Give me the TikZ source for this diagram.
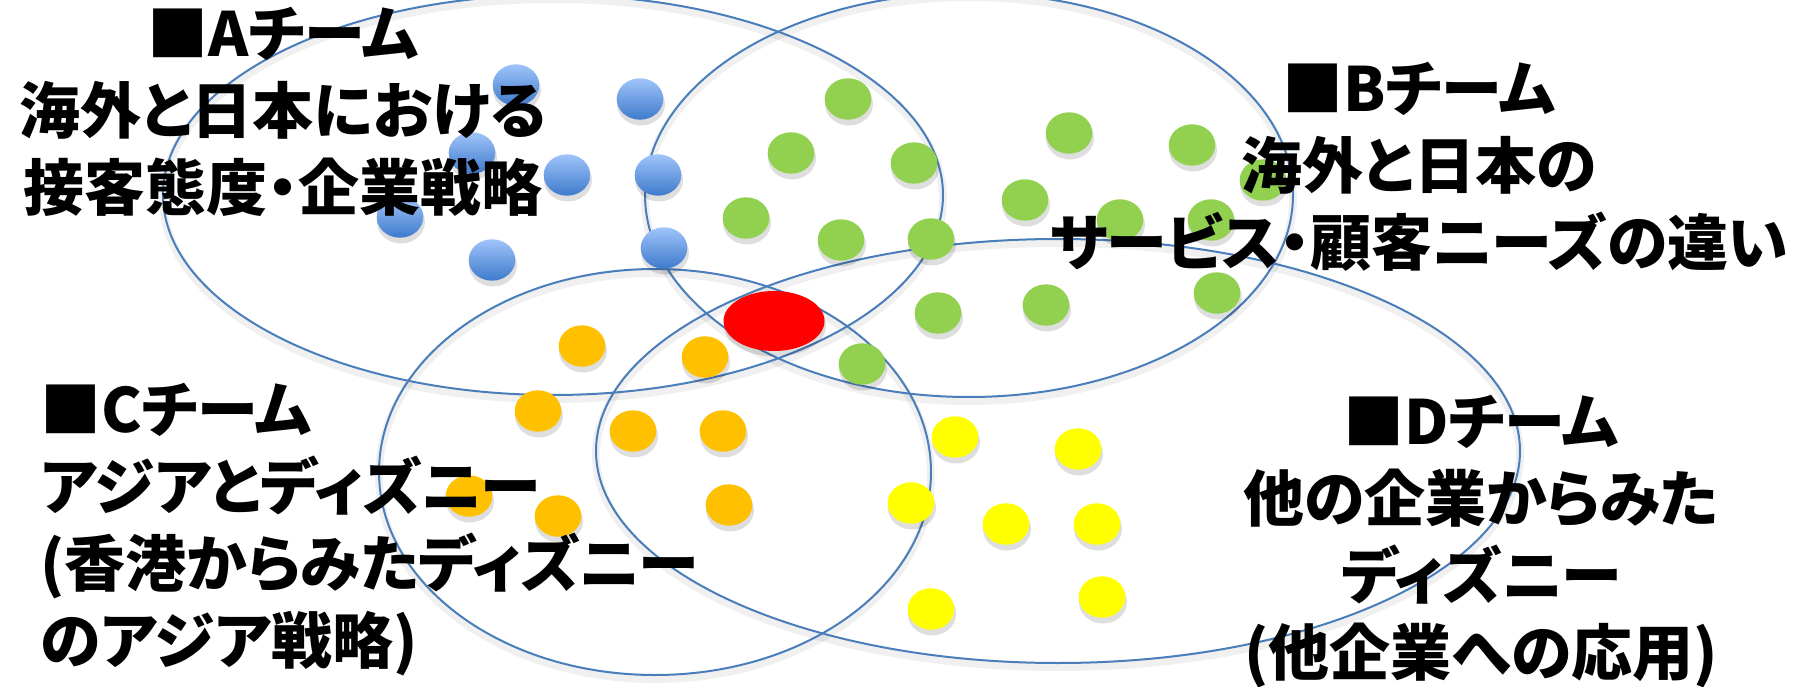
\documentclass[tikz,border=0pt]{standalone}
\usepackage{fontspec}
\newfontfamily\jp[RawFeature={+palt}]{Noto Sans CJK JP}
\definecolor{ringblue}{RGB}{74,126,187}
\definecolor{bluetop}{RGB}{160,196,250}
\definecolor{bluebot}{RGB}{62,122,204}
\definecolor{dotgreen}{RGB}{146,208,80}
\definecolor{dotorange}{RGB}{255,192,0}
\definecolor{dotyellow}{RGB}{255,255,0}
\definecolor{dotred}{RGB}{255,0,0}
\begin{document}
\begin{tikzpicture}[x=1pt,y=-1pt,
  ring/.style={draw=ringblue, line width=2pt},
  ringshade/.style={draw=black, opacity=0.06, line width=8pt},
  dotshade/.style={fill=black, opacity=0.13},
  txt/.style={font=\jp\bfseries\fontsize{61}{77}\selectfont, inner sep=0pt, text=black}]
\useasboundingbox (0,0) rectangle (1810,687);
\fill[white] (0,0) rectangle (1810,687);
% ellipse shadows
\draw[ringshade] (553,199) ellipse [x radius=390, y radius=200];
\draw[ringshade] (969,199) ellipse [x radius=324, y radius=202];
\draw[ringshade] (655,476) ellipse [x radius=276, y radius=203];
\draw[ringshade] (1058,455) ellipse [x radius=462, y radius=212];
% ellipses
\draw[ring] (553,195) ellipse [x radius=390, y radius=200];
\draw[ring] (969,195) ellipse [x radius=324, y radius=202];
\draw[ring] (655,472) ellipse [x radius=276, y radius=203];
\draw[ring] (1058,451) ellipse [x radius=462, y radius=212];
% blue dots
\foreach \x/\y in {516/85, 640/99, 472/153, 567/175, 658/175, 400/217, 492/260, 664/248}{
  \fill[dotshade] (\x+1,\y+5) ellipse [x radius=24, y radius=21.5];
  \shade[top color=bluetop, bottom color=bluebot] (\x,\y) ellipse [x radius=23.3, y radius=20.7];
}
% green dots
\foreach \x/\y in {848/99, 791/153, 746/218, 841/240, 914/163, 1069/133, 1192/145, 1025/200, 1120/220, 1211/220, 931/239, 938/313, 1046/305, 1217/293, 1263/180, 862/364}{
  \fill[dotshade] (\x+1,\y+5) ellipse [x radius=24, y radius=21.5];
  \fill[dotgreen] (\x,\y) ellipse [x radius=23.3, y radius=20.7];
}
% orange dots
\foreach \x/\y in {582/346, 705/357, 538/411, 633/431, 723/431, 469/496, 558/516, 729/505}{
  \fill[dotshade] (\x+1,\y+5) ellipse [x radius=24, y radius=21.5];
  \fill[dotorange] (\x,\y) ellipse [x radius=23.3, y radius=20.7];
}
% yellow dots
\foreach \x/\y in {955/437, 1078/449, 911/503, 1006/524, 1097/524, 931/609, 1102/597}{
  \fill[dotshade] (\x+1,\y+5) ellipse [x radius=24, y radius=21.5];
  \fill[dotyellow] (\x,\y) ellipse [x radius=23.3, y radius=20.7];
}
% red centre
\fill[dotshade] (775,326) ellipse [x radius=51, y radius=30.5];
\fill[dotred] (774,321) ellipse [x radius=50.5, y radius=30];
% texts
\node[txt, align=center, anchor=center] (teamA) at (283,112) {■Aチーム\\海外と日本における\\接客態度・企業戦略};
\node[txt, align=center, anchor=center] (teamB) at (1419,167) {■Bチーム\\海外と日本の\\サービス・顧客ニーズの違い};
\node[txt, align=left, anchor=west] (teamC) at (40,530) {■Cチーム\\アジアとディズニー\\(香港からみたディズニー\\のアジア戦略)};
\node[txt, align=center, anchor=center] (teamD) at (1481,542) {■Dチーム\\他の企業からみた\\ディズニー\\(他企業への応用)};
\end{tikzpicture}
\end{document}
